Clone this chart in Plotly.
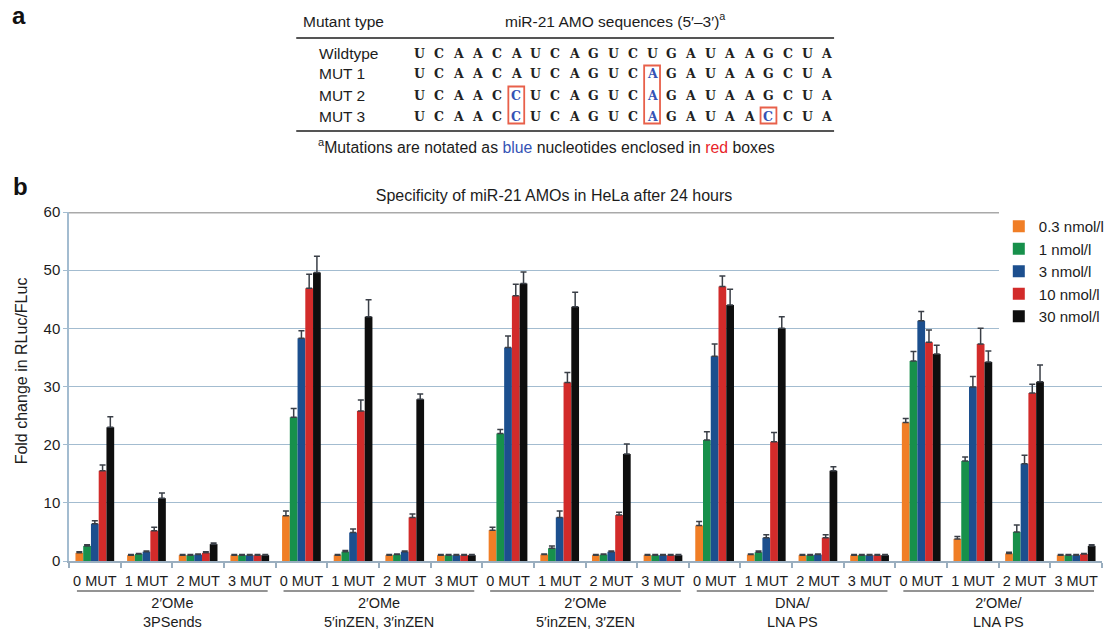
import plotly.graph_objects as go

W, H = 1110, 630
ML, MR, MT, MB = 69, 0, 212, 69
PW = W - ML - MR
PH = H - MT - MB


def px_x(px):
    return (px - ML) / PW


def px_y(py):
    return (H - MB - py) / PH


FONT = "Liberation Sans, Arial, Helvetica, sans-serif"
TXT = "#1c1c1c"

# ---------------- data ----------------
categories = ["0 MUT", "1 MUT", "2 MUT", "3 MUT"]
groups = ["2′OMe<br>3PSends", "2′OMe<br>5′inZEN, 3′inZEN", "2′OMe<br>5′inZEN, 3′ZEN",
          "DNA/<br>LNA PS", "2′OMe/<br>LNA PS"]
series_names = ["0.3 nmol/l", "1 nmol/l", "3 nmol/l", "10 nmol/l", "30 nmol/l"]
series_colors = ["#F07E26", "#17904B", "#1C4F8E", "#D22B2A", "#0E0E0E"]

vals_03 = [1.4, 1.0, 1.0, 1.0, 7.8, 1.0, 1.0, 1.0, 5.3, 1.1, 1.0, 1.0, 6.1, 1.1, 1.0, 1.0, 23.8, 3.8, 1.3, 1.0]
vals_1 = [2.6, 1.2, 1.0, 1.0, 24.7, 1.6, 1.1, 1.0, 21.9, 2.2, 1.1, 1.0, 20.8, 1.5, 1.0, 1.0, 34.4, 17.2, 5.0, 1.0]
vals_3 = [6.4, 1.6, 1.1, 1.0, 38.3, 4.9, 1.6, 1.0, 36.7, 7.5, 1.6, 1.0, 35.2, 4.0, 1.1, 1.0, 41.3, 29.9, 16.7, 1.0]
vals_10 = [15.5, 5.2, 1.4, 1.0, 46.9, 25.8, 7.5, 1.0, 45.6, 30.7, 7.9, 1.0, 47.2, 20.5, 4.0, 1.0, 37.6, 37.3, 28.9, 1.2]
vals_30 = [23.0, 10.8, 2.9, 1.0, 49.6, 42.0, 27.8, 1.0, 47.7, 43.7, 18.4, 1.0, 44.0, 40.0, 15.5, 1.0, 35.6, 34.2, 30.8, 2.6]

err_03 = [0.2, 0.1, 0.1, 0.1, 0.8, 0.1, 0.1, 0.1, 0.5, 0.1, 0.1, 0.1, 0.7, 0.1, 0.1, 0.1, 0.7, 0.4, 0.2, 0.1]
err_1 = [0.2, 0.1, 0.1, 0.1, 1.5, 0.2, 0.1, 0.1, 0.7, 0.4, 0.1, 0.1, 1.4, 0.2, 0.1, 0.1, 1.6, 0.7, 1.2, 0.1]
err_3 = [0.5, 0.1, 0.1, 0.1, 1.3, 0.6, 0.1, 0.1, 2.0, 1.1, 0.1, 0.1, 2.1, 0.5, 0.1, 0.1, 1.6, 1.8, 1.5, 0.1]
err_10 = [1.0, 0.6, 0.2, 0.1, 2.4, 1.9, 0.6, 0.1, 2.0, 1.7, 0.5, 0.1, 1.8, 1.6, 0.5, 0.1, 2.1, 2.7, 1.5, 0.1]
err_30 = [1.8, 0.9, 0.2, 0.1, 2.8, 2.9, 0.9, 0.1, 2.0, 2.5, 1.7, 0.1, 2.7, 2.0, 0.7, 0.1, 1.5, 1.9, 2.9, 0.2]

series_vals = [vals_03, vals_1, vals_3, vals_10, vals_30]
series_errs = [err_03, err_1, err_3, err_10, err_30]

y_ticks = [0, 10, 20, 30, 40, 50, 60]

# table (panel a)
mutant_names = ["Wildtype", "MUT 1", "MUT 2", "MUT 3"]
mutant_seqs = ["UCAACAUCAGUCUGAUAAGCUA",
               "UCAACAUCAGUCAGAUAAGCUA",
               "UCAACCUCAGUCAGAUAAGCUA",
               "UCAACCUCAGUCAGAUAACCUA"]

# ---------------- figure ----------------
n_cat = len(categories)
xs = [g * n_cat + c for g in range(len(groups)) for c in range(n_cat)]
tick_text = [categories[c] for g in range(len(groups)) for c in range(n_cat)]

fig = go.Figure()
for name, color, vals, errs in zip(series_names, series_colors, series_vals, series_errs):
    fig.add_trace(go.Bar(
        x=xs, y=vals, name=name,
        marker=dict(color=color, line=dict(width=0)),
        error_y=dict(type="data", array=errs, arrayminus=[0] * len(errs), symmetric=False,
                     color="#3a3f47", thickness=1.5, width=3),
    ))

annotations = []
shapes = []

# y axis title
annotations.append(dict(text="Fold change in RLuc/FLuc", textangle=-90, xref="paper", yref="paper",
                        x=px_x(21), y=px_y(371), xanchor="center", yanchor="middle", showarrow=False,
                        font=dict(size=16, color=TXT, family=FONT)))

# group underlines and labels
for g, glabel in enumerate(groups):
    x0 = g * n_cat - 0.5
    x1 = g * n_cat + n_cat - 0.5
    pad = 8 / (PW / len(xs))
    shapes.append(dict(type="line", xref="x", yref="paper", x0=x0 + pad, x1=x1 - pad,
                       y0=px_y(591), y1=px_y(591), line=dict(color="#2a2a2a", width=1.2)))
    annotations.append(dict(text=glabel, xref="x", yref="paper", x=(x0 + x1) / 2, y=px_y(612),
                            xanchor="center", yanchor="middle", showarrow=False,
                            font=dict(size=14.5, color=TXT, family=FONT)))

# top border
shapes.append(dict(type="line", xref="paper", yref="y", x0=0, x1=1, y0=y_ticks[-1], y1=y_ticks[-1],
                   line=dict(color="#a9a9a9", width=3)))

# panel labels
annotations.append(dict(text="<b>a</b>", xref="paper", yref="paper", x=px_x(19), y=px_y(15),
                        xanchor="center", yanchor="middle", showarrow=False,
                        font=dict(size=24, color="#111", family=FONT)))
annotations.append(dict(text="<b>b</b>", xref="paper", yref="paper", x=px_x(20), y=px_y(187),
                        xanchor="center", yanchor="middle", showarrow=False,
                        font=dict(size=24, color="#111", family=FONT)))

# ---------------- table ----------------
TBL_L, TBL_R = 298, 840
annotations.append(dict(text="Mutant type", xref="paper", yref="paper", x=px_x(303), y=px_y(21),
                        xanchor="left", yanchor="middle", showarrow=False,
                        font=dict(size=15.5, color=TXT, family=FONT)))
annotations.append(dict(text="miR-21 AMO sequences (5′–3′)<sup>a</sup>", xref="paper", yref="paper",
                        x=px_x(620), y=px_y(20), xanchor="center", yanchor="middle", showarrow=False,
                        font=dict(size=15.5, color=TXT, family=FONT)))
for yy in (38, 131):
    shapes.append(dict(type="line", xref="paper", yref="paper", x0=px_x(TBL_L), x1=px_x(TBL_R),
                       y0=px_y(yy), y1=px_y(yy), line=dict(color="#555555", width=2)))

row_y = [53, 74, 95, 116]
seq_x0, seq_dx = 422, 19.55
wt = mutant_seqs[0]
for r, (name, seq) in enumerate(zip(mutant_names, mutant_seqs)):
    annotations.append(dict(text=name, xref="paper", yref="paper", x=px_x(319), y=px_y(row_y[r]),
                            xanchor="left", yanchor="middle", showarrow=False,
                            font=dict(size=15.5, color=TXT, family=FONT)))
    for i, ch in enumerate(seq):
        mut = ch != wt[i]
        annotations.append(dict(text="<b>" + ch + "</b>", xref="paper", yref="paper",
                                x=px_x(seq_x0 + i * seq_dx), y=px_y(row_y[r]),
                                xanchor="center", yanchor="middle", showarrow=False,
                                font=dict(size=12.5, color="#3553b5" if mut else "#222",
                                          family="DejaVu Serif, serif")))

# mutation boxes
for i in range(len(wt)):
    rows = [r for r, s in enumerate(mutant_seqs) if s[i] != wt[i]]
    if rows:
        cx = seq_x0 + i * seq_dx
        shapes.append(dict(type="rect", xref="paper", yref="paper",
                           x0=px_x(cx - 8), x1=px_x(cx + 8),
                           y0=px_y(row_y[max(rows)] + 7.5), y1=px_y(row_y[min(rows)] - 8.5),
                           line=dict(color="#E8604A", width=1.8)))

annotations.append(dict(
    text="<sup>a</sup>Mutations are notated as <span style='color:#3553b5'>blue</span> nucleotides "
         "enclosed in <span style='color:#e8232a'>red</span> boxes",
    xref="paper", yref="paper", x=px_x(318), y=px_y(146), xanchor="left", yanchor="middle",
    showarrow=False, font=dict(size=15.8, color=TXT, family=FONT)))

AXC = "#a3bcd0"
fig.update_layout(
    width=W, height=H,
    margin=dict(l=ML, r=MR, t=MT, b=MB, pad=0),
    paper_bgcolor="white", plot_bgcolor="white",
    barmode="group", bargap=0.25, bargroupgap=0,
    font=dict(family=FONT, color=TXT, size=15),
    title=dict(text="Specificity of miR-21 AMOs in HeLa after 24 hours", xref="container", yref="container",
               x=554 / W, y=1 - 195 / H, xanchor="center", yanchor="middle",
               font=dict(size=16, color=TXT, family=FONT)),
    xaxis=dict(range=[-0.5, len(xs) - 0.5], tickmode="array", tickvals=xs, ticktext=tick_text,
               ticks="outside", ticklen=6, tickcolor="rgba(0,0,0,0)",
               showline=True, linecolor="#9aaebf", linewidth=1.5, showgrid=False, zeroline=False,
               tickfont=dict(size=14.5, color=TXT, family=FONT),
               minor=dict(tickmode="array", tickvals=[v - 0.5 for v in range(len(xs) + 1)],
                          ticks="outside", ticklen=5, tickwidth=1.5, tickcolor="#9aaebf", showgrid=False)),
    yaxis=dict(range=[y_ticks[0], y_ticks[-1]], tickmode="array", tickvals=y_ticks,
               ticks="outside", ticklen=4, tickcolor=AXC, tickwidth=1.2,
               showgrid=True, gridcolor=AXC, gridwidth=1.3, showline=True, linecolor=AXC, linewidth=1.5,
               zeroline=False, tickfont=dict(size=15, color=TXT, family=FONT)),
    legend=dict(x=px_x(1006), y=px_y(210), xanchor="left", yanchor="top", bgcolor="white",
                font=dict(size=15, color=TXT, family=FONT), itemwidth=30, tracegroupgap=0),
    annotations=annotations,
    shapes=shapes,
    showlegend=True,
)

fig.write_html("out.html")
